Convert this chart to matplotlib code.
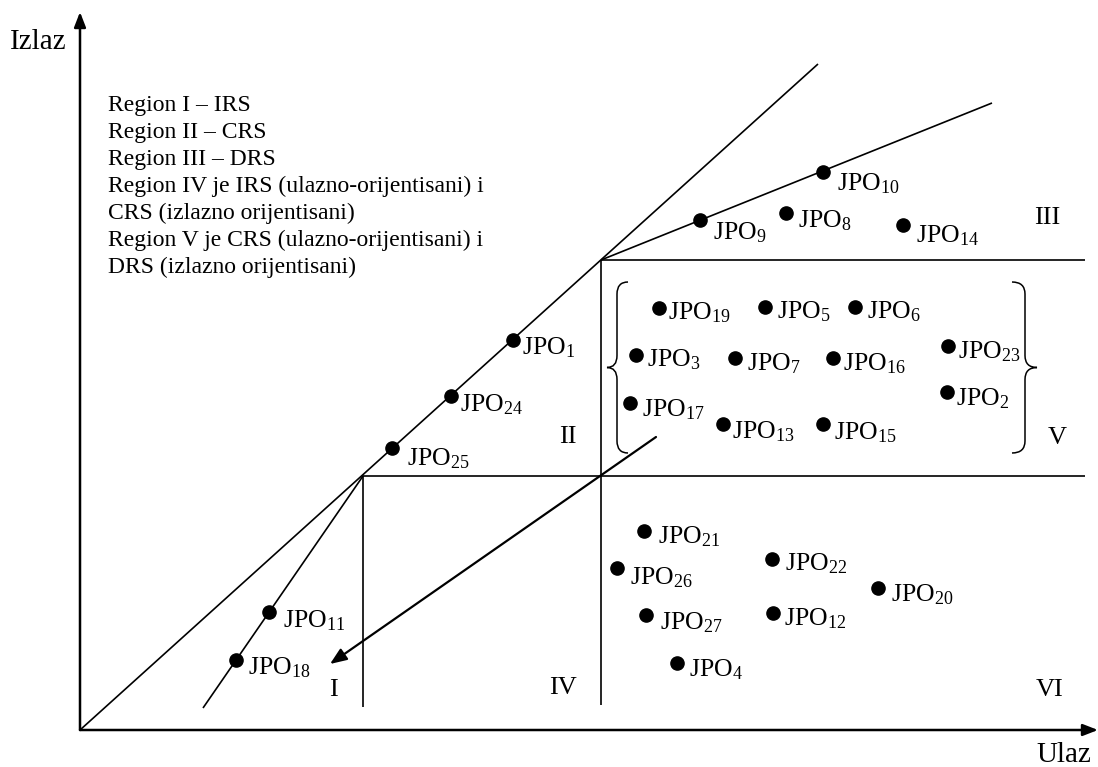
import matplotlib
matplotlib.use("Agg")
import matplotlib.pyplot as plt
from matplotlib.path import Path
from matplotlib.patches import PathPatch

plt.rcParams['font.family'] = ['Liberation Serif', 'DejaVu Serif']
plt.rcParams['mathtext.fontset'] = 'custom'
plt.rcParams['mathtext.rm'] = 'Liberation Serif'
plt.rcParams['mathtext.it'] = 'Liberation Serif:italic'

# units: input (Ulaz) on x, output (Izlaz) on y, origin at the axes corner
# frontier lines
crs_line = ([0, 738], [0, 666])
irs_line = ([283, 123], [254, 22])
drs_line = ([521, 912], [470, 627])
# region borders
upper_border = ([521, 1005], [470, 470])
lower_border = ([283, 1005], [254, 254])
border_i_iv = ([283, 283], [254, 23])
border_iv_vi = ([521, 521], [470, 25])
# projection arrow
arrow_from = (576, 293)
arrow_to = (250, 66)

# units (JPO) : number, input, output
jpo_num = [1, 24, 25, 11, 18, 9, 10, 8, 14, 19, 5, 6, 3, 7, 16, 23, 2, 17, 13, 15,
           21, 26, 22, 20, 27, 12, 4]
jpo_x = [433, 371, 312, 189, 156, 620, 743, 706, 823, 579, 685, 775, 556, 655, 753, 868, 867, 550, 643, 743,
         564, 537, 692, 798, 566, 693, 597]
jpo_y = [390, 334, 282, 118, 70, 510, 558, 517, 505, 422, 423, 423, 375, 372, 372, 384, 338, 327, 306, 306,
         199, 162, 171, 142, 115, 117, 67]
# label offsets in pixels (right, down)
label_dx = [9, 9, 15, 14, 12, 13, 14, 12, 13, 9, 12, 12, 11, 12, 10, 10, 9, 12, 9, 11,
            14, 13, 13, 13, 14, 11, 12]
label_dy = [5, 6, 8, 6, 5, 10, 9, 5, 8, 2, 2, 2, 2, 3, 3, 3, 4, 4, 5, 6,
            3, 7, 2, 4, 5, 3, 4]

region_names = ['I', 'II', 'III', 'IV', 'V', 'VI']
region_x = [253, 488, 967, 483, 977, 970]
region_y = [40, 293, 512, 42, 292, 40]

legend_lines = [
    'Region I \u2013 IRS',
    'Region II \u2013 CRS',
    'Region III \u2013 DRS',
    'Region IV je IRS (ulazno-orijentisani) i',
    'CRS (izlazno orijentisani)',
    'Region V je CRS (ulazno-orijentisani) i',
    'DRS (izlazno orijentisani)',
]


def brace(ax, x_back, x_mid, x_tip, y_top, y_bot, r=12):
    ym = (y_top + y_bot) / 2
    verts = [(x_back, y_top), (x_mid, y_top), (x_mid, y_top - r),
             (x_mid, ym + r),
             (x_mid, ym), (x_tip, ym),
             (x_mid, ym), (x_mid, ym - r),
             (x_mid, y_bot + r),
             (x_mid, y_bot), (x_back, y_bot)]
    codes = [Path.MOVETO, Path.CURVE3, Path.CURVE3,
             Path.LINETO,
             Path.CURVE3, Path.CURVE3,
             Path.CURVE3, Path.CURVE3,
             Path.LINETO,
             Path.CURVE3, Path.CURVE3]
    ax.add_patch(PathPatch(Path(verts, codes), fill=False, lw=1.1, color='black'))


fig = plt.figure(figsize=(10.98, 7.67), dpi=100)
ax = fig.add_axes([0, 0, 1, 1])
ax.set_xlim(-80, 1018)
ax.set_ylim(-37, 730)
ax.axis('off')

# axes with arrows
ax.annotate('', xy=(0, 718), xytext=(0, 0),
            arrowprops=dict(arrowstyle='-|>,head_length=0.9,head_width=0.35', lw=1.8, color='black',
                            shrinkA=0, shrinkB=0))
ax.annotate('', xy=(1018, 0), xytext=(0, 0),
            arrowprops=dict(arrowstyle='-|>,head_length=0.9,head_width=0.35', lw=1.8, color='black',
                            shrinkA=0, shrinkB=0))
ax.text(-70, 688, 'Izlaz', fontsize=21, ha='left', va='center')
ax.text(956, -25, 'Ulaz', fontsize=21, ha='left', va='center')

for xs, ys in [crs_line, irs_line, drs_line, upper_border, lower_border, border_i_iv, border_iv_vi]:
    ax.plot(xs, ys, color='black', lw=1.2, solid_capstyle='butt')

ax.annotate('', xy=arrow_to, xytext=arrow_from,
            arrowprops=dict(arrowstyle='-|>,head_length=1.0,head_width=0.4', lw=1.6, color='black',
                            shrinkA=0, shrinkB=0))

brace(ax, 548, 537, 527, 448, 277)
brace(ax, 932, 945, 957, 448, 277)

ax.plot(jpo_x, jpo_y, 'o', color='black', markersize=9.5, zorder=3)
for n, x, y, dx, dy in zip(jpo_num, jpo_x, jpo_y, label_dx, label_dy):
    ax.annotate('JPO$_{%d}$' % n, xy=(x, y), xytext=(dx, -(dy + 9)),
                textcoords='offset pixels', fontsize=18.5, ha='left', va='baseline')

for name, x, y in zip(region_names, region_x, region_y):
    ax.text(x, y, name, fontsize=19, ha='center', va='center')

for i, line in enumerate(legend_lines):
    ax.text(28, 619 - 27 * i, line, fontsize=17, ha='left', va='baseline')

fig.savefig('out.png', dpi=100)
